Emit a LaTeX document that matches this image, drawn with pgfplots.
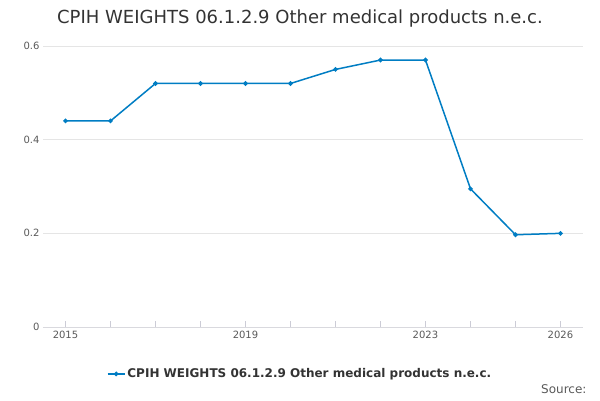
\documentclass[border=0pt]{standalone}
\usepackage{pgfplots}
\pgfplotsset{compat=1.18}
\usepackage{fontspec}
\setmainfont{DejaVu Sans}
\begin{document}
\begin{tikzpicture}[x=1pt,y=1pt]
\path[use as bounding box] (0,0) rectangle (600,400);
\node[font=\fontsize{18}{21}\selectfont, text=black!80] at (300,381) {CPIH WEIGHTS 06.1.2.9 Other medical products n.e.c.};
\node[anchor=east, font=\fontsize{12}{14}\selectfont, text=black!65] at (590,11) {Source:};
\begin{axis}[
  at={(43pt,73pt)}, anchor=south west,
  scale only axis, width=540pt, height=281pt,
  xmin=2014.5, xmax=2026.5, ymin=0, ymax=0.6,
  axis x line*=bottom,
  axis y line*=left,
  x axis line style={draw=blue!15!black!15, -},
  y axis line style={draw=none},
  ytick={0,0.2,0.4,0.6},
  yticklabel style={/pgf/number format/fixed, /pgf/number format/precision=1},
  xtick={2015,...,2026},
  xticklabels={2015,,,,2019,,,,2023,,,2026},
  tick label style={font=\fontsize{10}{12}\selectfont, text=black!65},
  /pgf/number format/assume math mode=true,
  ymajorgrids, grid style={black!10},
  major tick length=6pt,
  xtick style={draw=blue!20!black!20},
  x tick label style={yshift=-1pt},
  ytick style={draw=none},
  legend style={at={(0.476,-0.167)}, anchor=center, draw=none,
    font=\fontsize{12}{14}\selectfont\bfseries, text=black!80},
  legend image post style={mark size=1.5pt},
]
\addplot[color={rgb,255:red,0;green,125;blue,195}, line width=1.5pt, mark=*, mark size=1.5pt] coordinates {
(2015,0.44)(2016,0.44)(2017,0.52)(2018,0.52)(2019,0.52)(2020,0.52)
(2021,0.55)(2022,0.57)(2023,0.57)(2024,0.295)(2025,0.197)(2026,0.2)};
\addlegendentry{CPIH WEIGHTS 06.1.2.9 Other medical products n.e.c.}
\end{axis}
\end{tikzpicture}
\end{document}
